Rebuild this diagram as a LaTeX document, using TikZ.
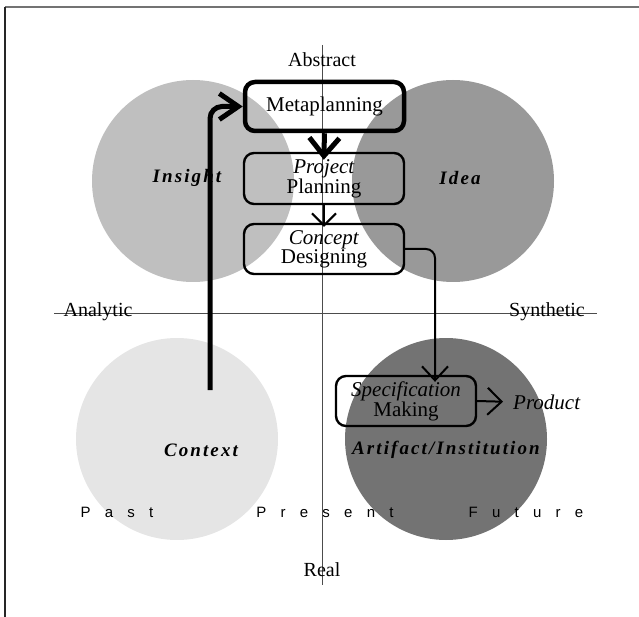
\documentclass[tikz,border=0pt]{standalone}
\usepackage{fontspec}
\setmainfont{Liberation Serif}
\newfontfamily\spacedsans[LetterSpace=95]{Liberation Sans}
\newfontfamily\spacedbi[LetterSpace=11]{Liberation Serif Bold Italic}
\usetikzlibrary{arrows.meta}
\definecolor{insightgray}{gray}{0.75}
\definecolor{ideagray}{gray}{0.60}
\definecolor{contextgray}{gray}{0.90}
\definecolor{artifactgray}{gray}{0.45}
\tikzset{
  axis/.style={draw=black!70, line width=0.9pt},
  axislabel/.style={font=\fontsize{20}{20}\selectfont, inner sep=1pt},
  realmlabel/.style={font=\fontsize{19}{19}\selectfont\spacedbi, inner sep=0pt},
  timelabel/.style={font=\fontsize{15}{15}\selectfont\spacedsans, inner sep=0pt},
  stagebox/.style={draw, rounded corners=10pt, align=center, line width=2.4pt,
    font=\fontsize{21}{19}\selectfont, inner sep=0pt},
  bigbarb/.style={-{Straight Barb[length=19pt,width=26pt]}},
  smallbarb/.style={-{Straight Barb[length=12pt,width=24pt]}},
}
\begin{document}
\begin{tikzpicture}[x=1pt,y=-1pt]
\useasboundingbox (0,0) rectangle (639,617);
% frame
\draw[draw=black!55, line width=2pt] (5,7) -- (639,7);
\draw[draw=black!85, line width=2pt] (5,7) -- (5,617);
% realm disks
\fill[insightgray] (193,181) circle (101);
\fill[ideagray] (453,181) circle (101);
\fill[contextgray] (177,439) circle (101);
\fill[artifactgray] (446,439) circle (101);
% axes
\coordinate (vtop) at (322,45);
\coordinate (vbot) at (322,585);
\coordinate (hleft) at (54,313);
\coordinate (hright) at (597,313);
\draw[axis] (vtop) -- (vbot);
\draw[axis] (hleft) -- (hright);
% axis labels
\node[axislabel] (abstract) at (322,60) {Abstract};
\node[axislabel] (real) at (322,570) {Real};
\node[axislabel] (analytic) at (98,311.5) {Analytic};
\node[axislabel] (synthetic) at (547,311.5) {Synthetic};
% realm labels
\node[realmlabel] (insight) at (187,178) {Insight};
\node[realmlabel] (idea) at (460,178) {Idea};
\node[realmlabel] (context) at (201,450) {Context};
\node[realmlabel] (artifact) at (446,450) {Artifact/Institution};
% time labels
\node[timelabel] (past) at (117,512) {Past};
\node[timelabel] (present) at (325,512) {Present};
\node[timelabel] (future) at (526,512) {Future};
% stages
\node[stagebox, line width=4.5pt, minimum width=159pt, minimum height=49pt] (meta) at (324.5,106.5) {Metaplanning};
\node[stagebox, minimum width=160pt, minimum height=51pt] (project) at (324,178.5) {\textit{Project}\\Planning};
\node[stagebox, minimum width=160pt, minimum height=50pt] (concept) at (324,249) {\textit{Concept}\\Designing};
\node[stagebox, minimum width=140pt, minimum height=50pt] (spec) at (406,401) {\textit{Specification}\\Making};
\node[font=\fontsize{21}{21}\selectfont\itshape, inner sep=0pt, anchor=west] (product) at (513,402) {Product};
% flow
\coordinate (start) at (210,390);
\draw[line width=5pt, rounded corners=12pt, bigbarb] (start) |- (meta.west);
\draw[line width=5pt, -{Straight Barb[length=18pt,width=30pt]}, shorten >=-8pt] (meta.south) -- (project.north);
\draw[line width=2pt, smallbarb, shorten >=-4pt] (project.south) -- (concept.north);
\draw[line width=2pt, rounded corners=9pt, -{Straight Barb[length=14pt,width=26pt]}, shorten >=-7pt] (concept.east) -| ([xshift=29pt]spec.north);
\draw[line width=2pt, -{Straight Barb[length=14pt,width=27pt]}, shorten >=10pt] (spec.east) -- (product.west);
\end{tikzpicture}
\end{document}
